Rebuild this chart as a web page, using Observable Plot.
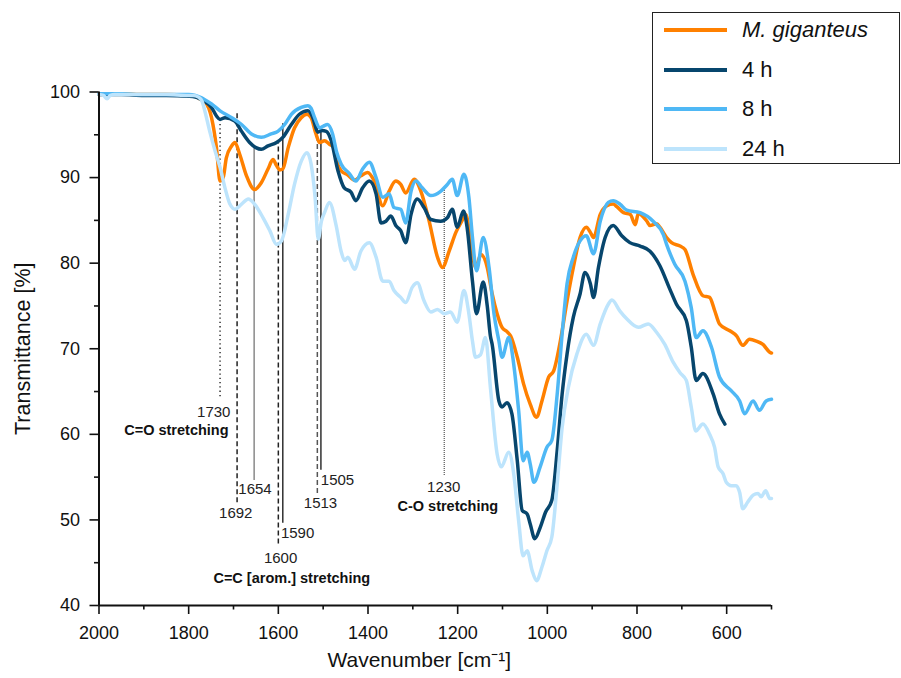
<!DOCTYPE html>
<html>
<head>
<meta charset="utf-8">
<script src="https://cdn.jsdelivr.net/npm/d3@7"></script>
<script src="https://cdn.jsdelivr.net/npm/@observablehq/plot@0.6"></script>
<style>
  html, body { margin: 0; padding: 0; background: #fff; }
  #wrap { position: relative; width: 901px; height: 678px; font-family: "Liberation Sans", Arial, sans-serif; }
  #legend { position: absolute; left: 652px; top: 12px; width: 246px; height: 150px; border: 1.4px solid #222; background: #fff; }
  .lrow { position: absolute; left: 0; height: 30px; }
  .lsw { position: absolute; left: 11px; width: 63px; height: 4px; }
  .ltx { position: absolute; left: 89px; top: 0; font-size: 22px; color: #111; white-space: nowrap; line-height: 30px; }
</style>
</head>
<body>
<div id="wrap"></div>
<script>
// ---------- data ----------
const seriesNames = ["M. giganteus", "4 h", "8 h", "24 h"];
const seriesColors = ["#ff8000", "#07466d", "#4fb8f5", "#bde4fc"];

const wnMg = [2000,1950,1900,1850,1800,1785,1775,1764,1749,1738,1730,1723,1716,1704,1697,1686,1671,1653,1638,1623,1612,1604,1597,1590,1578,1564,1549,1536,1527,1516,1508,1497,1486,1475,1467,1460,1445,1430,1416,1401,1386,1367,1353,1338,1327,1316,1297,1282,1264,1245,1234,1219,1204,1190,1182,1171,1160,1148,1134,1123,1112,1101,1090,1082,1067,1053,1038,1024,1012,997,986,971,956,942,927,913,904,897,882,867,853,845,830,815,804,797,778,771,756,749,734,723,704,693,675,653,638,627,616,593,578,564,549,534,519,504,500];
const tMg = [99.7,99.8,99.7,99.7,99.6,99.5,99.2,98.9,97.0,93.5,89.6,90.0,92.3,93.7,94.1,92.7,90.2,88.6,89.4,91.0,92.1,91.4,90.9,91.0,93.5,95.8,97.0,97.4,97.0,95.1,94.1,94.3,93.9,93.5,91.5,90.8,90.3,89.7,90.2,90.6,89.6,86.7,88.4,89.6,89.2,88.2,89.8,88.4,85.0,80.7,79.5,81.4,83.6,85.0,85.7,82.6,79.5,81.0,79.5,76.4,74.1,72.5,72.0,71.5,69.0,65.9,63.5,62.0,63.9,66.7,67.4,70.9,75.6,79.5,83.0,84.2,83.6,83.0,85.7,86.7,86.9,86.6,85.9,85.7,84.5,85.8,84.9,84.4,84.6,84.2,83.0,82.4,82.0,81.6,78.7,76.2,76.0,74.5,72.9,72.1,71.5,70.4,71.1,70.9,70.5,69.6,69.5];

const wn4h = [2000,1950,1900,1850,1800,1785,1775,1764,1749,1738,1730,1719,1697,1682,1664,1650,1638,1623,1604,1590,1571,1553,1534,1523,1512,1503,1493,1482,1467,1453,1438,1427,1412,1397,1382,1371,1360,1349,1338,1327,1316,1304,1290,1275,1260,1238,1223,1212,1201,1187,1179,1167,1158,1143,1134,1127,1123,1108,1101,1090,1079,1067,1056,1045,1038,1028,1016,1004,990,978,967,956,942,927,916,904,897,886,871,853,834,816,793,771,749,727,712,690,679,668,653,630,616,604];
const t4h = [99.7,99.7,99.6,99.6,99.5,99.4,99.2,98.9,98.2,97.2,96.8,97.0,96.6,95.4,94.1,93.5,93.3,93.7,94.1,94.7,96.2,97.4,97.8,97.0,95.3,95.5,95.4,94.3,90.8,88.8,88.3,87.3,88.8,89.6,88.1,84.7,84.9,85.5,84.4,83.8,82.4,85.7,87.5,86.5,85.1,84.9,85.3,86.3,84.2,86.1,84.2,77.9,74.1,77.8,75.0,71.5,70.5,63.9,63.2,63.7,62.4,56.9,51.1,50.7,49.5,47.8,49.1,50.9,52.3,58.1,64.7,69.4,73.7,76.4,78.9,77.6,76.0,79.5,83.0,84.4,83.2,82.4,82.0,81.4,79.7,77.0,75.2,73.3,70.2,66.3,67.1,64.7,62.4,61.2];

const wn8h = [2000,1950,1900,1850,1800,1785,1775,1764,1749,1730,1704,1682,1660,1638,1616,1601,1586,1571,1549,1534,1527,1519,1508,1500,1490,1479,1470,1460,1442,1427,1412,1397,1382,1367,1353,1342,1327,1316,1304,1293,1279,1260,1238,1223,1212,1201,1186,1175,1167,1158,1143,1130,1119,1108,1101,1086,1075,1064,1054,1045,1038,1030,1016,1001,990,978,967,956,942,927,913,897,882,864,853,838,823,793,764,741,734,716,693,679,668,653,634,616,590,571,560,541,527,512,500];
const t8h = [99.8,99.8,99.7,99.7,99.7,99.6,99.4,99.1,98.6,97.8,97.0,96.2,95.1,94.7,95.1,95.4,96.2,97.4,98.2,98.4,98.1,97.0,95.8,96.0,96.2,95.1,93.0,91.6,90.5,89.6,91.0,91.8,90.0,87.7,88.1,86.5,86.3,84.7,88.4,89.6,88.8,87.9,88.4,89.2,89.8,87.9,90.4,87.7,83.0,79.1,83.0,79.5,74.1,70.9,69.0,71.3,68.2,62.8,56.9,57.9,56.5,54.4,56.2,58.5,59.3,64.7,71.7,77.6,80.7,82.6,83.2,81.1,84.9,87.1,87.3,86.9,86.2,85.9,84.9,83.3,82.2,79.9,77.9,74.8,71.3,72.1,70.2,66.7,65.1,63.9,62.4,63.9,62.8,63.9,64.1];

const wn24h = [2000,1990,1982,1975,1965,1950,1900,1850,1800,1790,1778,1770,1764,1753,1741,1730,1719,1708,1697,1682,1667,1653,1634,1619,1604,1593,1578,1564,1549,1536,1527,1518,1511,1504,1497,1486,1471,1460,1452,1445,1430,1416,1397,1382,1367,1353,1342,1327,1316,1301,1290,1275,1260,1245,1230,1216,1201,1186,1175,1167,1160,1149,1138,1127,1112,1103,1086,1075,1064,1054,1045,1034,1024,1012,1001,990,978,967,953,934,913,897,882,864,856,838,823,797,775,756,738,719,704,690,679,669,653,638,627,619,608,601,590,579,571,564,553,541,530,523,513,504,500];
const t24h = [99.7,99.6,99.2,99.6,99.7,99.7,99.7,99.7,99.6,99.6,99.4,98.9,97.8,95.4,93.1,91.2,88.8,86.9,86.3,86.9,87.5,86.9,85.3,83.8,82.2,82.6,85.7,89.2,91.9,92.9,91.6,87.7,82.8,84.9,85.9,87.1,84.4,81.4,80.3,80.7,79.3,81.4,82.4,80.7,77.9,77.9,76.8,76.0,75.4,77.2,77.7,75.6,74.3,74.6,74.1,74.3,73.1,76.8,74.1,70.9,69.0,69.3,71.3,65.5,57.7,56.2,57.9,55.4,49.9,45.8,46.4,44.1,42.9,44.5,46.4,48.0,54.2,60.8,65.5,69.4,71.7,70.4,72.9,75.2,75.7,74.4,73.5,72.5,72.9,71.9,70.5,68.4,67.2,66.3,63.2,60.4,61.2,60.0,58.5,56.2,55.4,54.4,54.0,54.0,53.2,51.3,52.1,52.9,53.1,52.7,53.4,52.5,52.5];

// tick values
const xMajorTicks = [2000,1800,1600,1400,1200,1000,800,600];
const xMinorTicks = [1900,1700,1500,1300,1100,900,700,500];
const yMajorTicks = [40,50,60,70,80,90,100];
const yMinorTicks = [45,55,65,75,85,95];

// band annotations
const annotWn     = [1730, 1692, 1654, 1600, 1590, 1513, 1505, 1230];
const annotTop    = [96.7, 97.5, 93.5, 94.3, 96.3, 95.85, 95.85, 88.7];
const annotBottom = [64.4, 52.0, 54.6, 47.2, 49.6, 53.1, 55.8, 55.2];
const annotStyle  = ["dotted","dashed","gray","dashed","solid","dashedGray","solid","fine"];
const annotLabelX = [1744, 1695, 1652, 1595, 1557, 1506, 1468, 1231];
const annotLabelY = [62.55, 50.75, 53.55, 45.5, 48.4, 51.9, 54.6, 53.8];

const groupText   = ["C=O stretching", "C=C [arom.] stretching", "C-O stretching"];
const groupX      = [1711, 1570, 1222];
const groupY      = [60.45, 43.15, 51.6];
const groupAnchor = ["end", "middle", "middle"];

// ---------- build tables ----------
const seriesWn = [wnMg, wn4h, wn8h, wn24h];
const seriesT = [tMg, t4h, t8h, t24h];
const tables = seriesNames.map((name, i) =>
  seriesWn[i].map((w, j) => ({series: name, wn: w, t: seriesT[i][j]})));

const annots = annotWn.map((w, i) => ({wn: w, y1: annotBottom[i], y2: annotTop[i], style: annotStyle[i],
  label: String(w), lx: annotLabelX[i], ly: annotLabelY[i]}));
const groups = groupText.map((t, i) => ({text: t, x: groupX[i], y: groupY[i], anchor: groupAnchor[i]}));

const ruleStyles = {
  dotted:     {stroke: "#222", strokeWidth: 1.4, strokeDasharray: "1.3,3"},
  dashed:     {stroke: "#222", strokeWidth: 1.5, strokeDasharray: "5,3"},
  dashedGray: {stroke: "#555", strokeWidth: 1.5, strokeDasharray: "5,3"},
  gray:       {stroke: "#777", strokeWidth: 1.3},
  solid:      {stroke: "#111", strokeWidth: 1.3},
  fine:       {stroke: "#444", strokeWidth: 1.1, strokeDasharray: "1,1"}
};

const ruleMarks = Object.keys(ruleStyles).map(k =>
  Plot.ruleX(annots.filter(d => d.style === k), {x: "wn", y1: "y1", y2: "y2", ...ruleStyles[k]}));

const lineMarks = tables.map((tab, i) =>
  Plot.line(tab, {x: "wn", y: "t", stroke: seriesColors[i], strokeWidth: 3.5, curve: "monotone-x",
    strokeLinejoin: "round", strokeLinecap: "round"}));

const chart = Plot.plot({
  width: 901,
  height: 678,
  marginLeft: 98.5,
  marginRight: 130,
  marginTop: 91.5,
  marginBottom: 73,
  style: {fontFamily: "'Liberation Sans', Arial, sans-serif", fontSize: "18px", color: "#111", background: "transparent"},
  x: {domain: [2000, 500]},
  y: {domain: [40, 100]},
  marks: [
    ...ruleMarks,
    ...lineMarks,
    Plot.text(annots, {x: "lx", y: "ly", text: "label", fontSize: 15, fill: "#222"}),
    Plot.text(groups.filter(d => d.anchor === "end"), {x: "x", y: "y", text: "text", textAnchor: "end", fontSize: 14.5, fontWeight: "bold", fill: "#111"}),
    Plot.text(groups.filter(d => d.anchor === "middle"), {x: "x", y: "y", text: "text", fontSize: 14.5, fontWeight: "bold", fill: "#111"}),
    Plot.axisX({ticks: xMajorTicks, tickSize: 9, tickPadding: 12, tickFormat: d3.format("d"), fontSize: 18, strokeWidth: 1.6, label: null}),
    Plot.axisX({ticks: xMinorTicks, tickSize: 4.5, fill: "none", strokeWidth: 1.6, label: null}),
    Plot.axisY({ticks: yMajorTicks, tickSize: 9, tickPadding: 10, tickFormat: d3.format("d"), fontSize: 18, strokeWidth: 1.6, label: null}),
    Plot.axisY({ticks: yMinorTicks, tickSize: 4.5, fill: "none", strokeWidth: 1.6, label: null}),
    Plot.ruleY([40], {stroke: "#111", strokeWidth: 2}),
    Plot.ruleX([2000], {y1: 40, y2: 100, stroke: "#111", strokeWidth: 2}),
    Plot.text(["Transmittance [%]"], {frameAnchor: "left", textAnchor: "middle", dx: -76, rotate: -90, fontSize: 21.5, fill: "#111"}),
    Plot.text(["Wavenumber [cm\u207B\u00B9]"], {frameAnchor: "bottom", textAnchor: "middle", dy: 61, dx: -16, fontSize: 21, fill: "#111"})
  ]
});

const wrap = document.getElementById("wrap");
wrap.appendChild(chart);

// legend
const legend = document.createElement("div");
legend.id = "legend";
seriesNames.forEach((name, i) => {
  const row = document.createElement("div");
  row.className = "lrow";
  row.style.top = (17 + i * 39.6 - 15) + "px";
  row.style.width = "246px";
  const sw = document.createElement("div");
  sw.className = "lsw";
  sw.style.background = seriesColors[i];
  sw.style.top = "13px";
  const tx = document.createElement("div");
  tx.className = "ltx";
  tx.textContent = name;
  if (i === 0) tx.style.fontStyle = "italic";
  row.appendChild(sw);
  row.appendChild(tx);
  legend.appendChild(row);
});
wrap.appendChild(legend);
</script>
</body>
</html>
